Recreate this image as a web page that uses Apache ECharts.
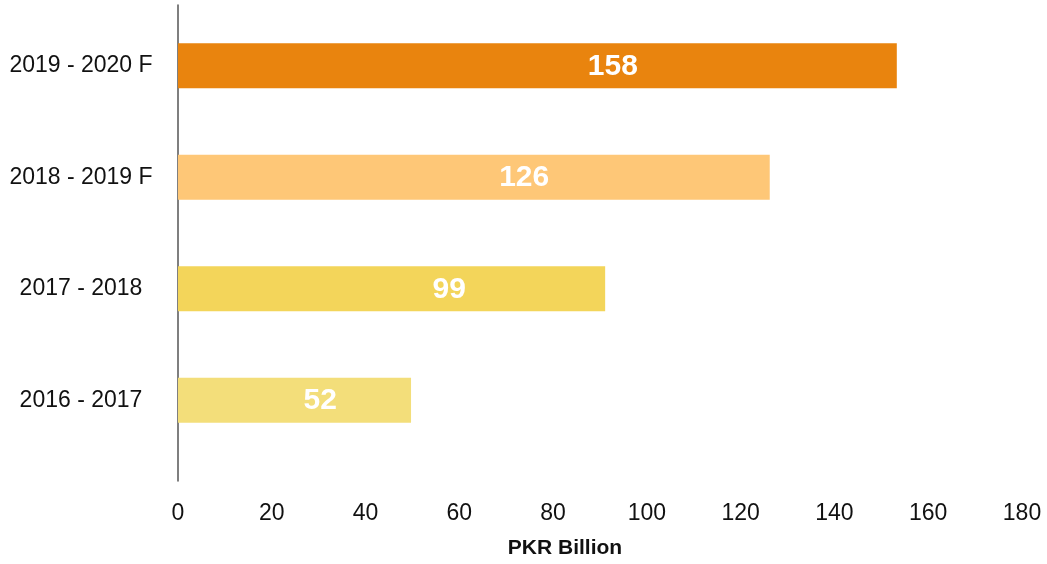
<!DOCTYPE html>
<html>
<head>
<meta charset="utf-8">
<script src="https://cdn.jsdelivr.net/npm/echarts@6/dist/echarts.min.js"></script>
<style>html,body{margin:0;padding:0;background:#fff;}#c{width:1047px;height:564px;}</style>
</head>
<body>
<div id="c"></div>
<script>
// Categories (top to bottom)
var categories = ['2019 - 2020 F', '2018 - 2019 F', '2017 - 2018', '2016 - 2017'];
// Bar lengths as drawn in the picture (PKR Billion)
var barLengths = [153.3, 126.2, 91.1, 49.7];
// Value labels printed on the bars
var barLabels = ['158', '126', '99', '52'];
var xTicks = [0, 20, 40, 60, 80, 100, 120, 140, 160, 180];
var axisName = 'PKR Billion';

// styling
var barColors = ['#E9840E', '#FEC777', '#F3D55A', '#F3DE7A'];
var labelPosStyle = ['60.5%', '58.5%', '63.5%', '61%'];

var chart = echarts.init(document.getElementById('c'), null, {renderer: 'canvas'});
var font = 'Liberation Sans, Arial, Helvetica, sans-serif';
chart.setOption({
  animation: false,
  grid: [
    {left: 178, right: 25, top: 10, height: 446, containLabel: false},
    {left: 178, right: 25, top: 5, height: 480, containLabel: false}
  ],
  xAxis: [
    {gridIndex: 0, type: 'value', min: xTicks[0], max: xTicks[xTicks.length - 1], show: false},
    {gridIndex: 1, type: 'value', min: xTicks[0], max: xTicks[xTicks.length - 1], interval: 20,
     axisLine: {show: false}, axisTick: {show: false}, splitLine: {show: false},
     axisLabel: {margin: 21, fontSize: 23, color: '#111', fontFamily: font},
     name: axisName, nameLocation: 'middle', nameGap: 57,
     nameTextStyle: {fontSize: 21, color: '#111', fontWeight: 'bold', fontFamily: font, padding: [0, 70, 0, 0]}}
  ],
  yAxis: [
    {gridIndex: 0, type: 'category', data: categories, inverse: true,
     axisLine: {show: false}, axisTick: {show: false}, splitLine: {show: false},
     axisLabel: {margin: 97, align: 'center', fontSize: 23, color: '#111', fontFamily: font}},
    {gridIndex: 1, type: 'value', min: 0, max: 1,
     axisLine: {show: true, lineStyle: {color: '#555', width: 1.5}},
     axisTick: {show: false}, axisLabel: {show: false}, splitLine: {show: false}}
  ],
  series: [{
    type: 'bar',
    xAxisIndex: 0, yAxisIndex: 0,
    barWidth: 45,
    data: barLengths.map(function (v, i) {
      return {value: v, itemStyle: {color: barColors[i]},
              label: {position: [labelPosStyle[i], '52%']}};
    }),
    label: {
      show: true,
      align: 'center', verticalAlign: 'middle',
      color: '#fff', fontWeight: 'bold', fontSize: 30, fontFamily: font,
      formatter: function (p) { return barLabels[p.dataIndex]; }
    }
  }]
});
</script>
</body>
</html>
